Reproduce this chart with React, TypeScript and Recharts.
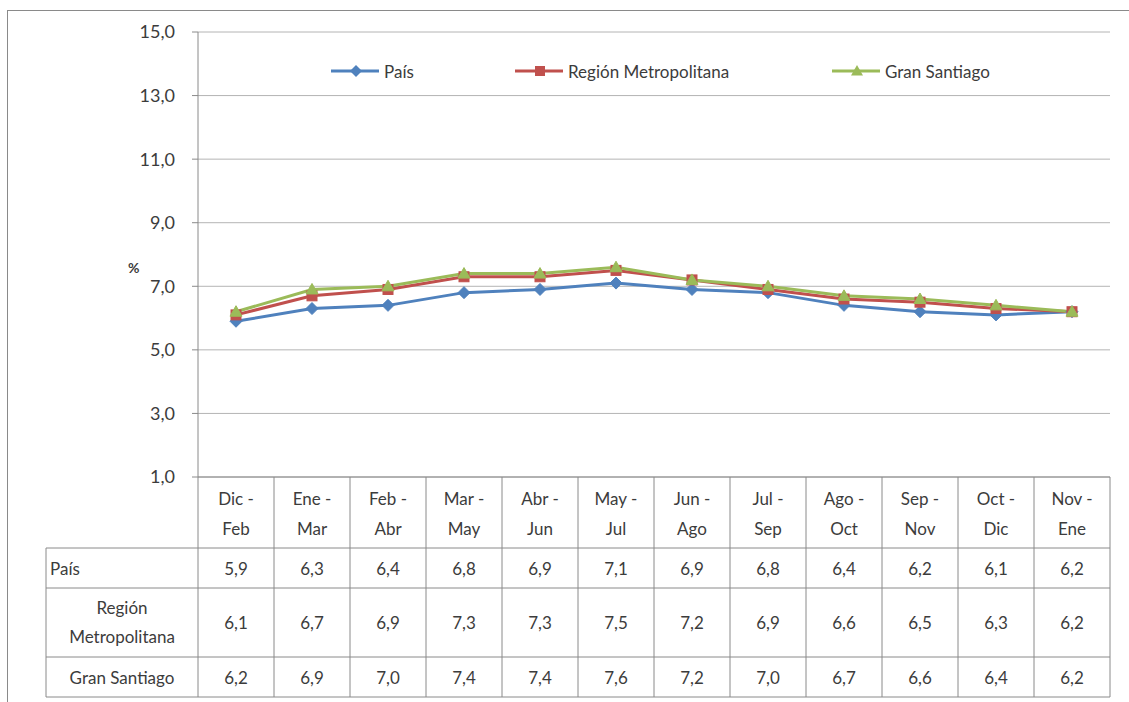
import React from 'react';
import { LineChart, Line, XAxis, YAxis, CartesianGrid } from 'recharts';

const categories = [
  'Dic - Feb', 'Ene - Mar', 'Feb - Abr', 'Mar - May', 'Abr - Jun', 'May - Jul',
  'Jun - Ago', 'Jul - Sep', 'Ago - Oct', 'Sep - Nov', 'Oct - Dic', 'Nov - Ene',
];
const pais = [5.9, 6.3, 6.4, 6.8, 6.9, 7.1, 6.9, 6.8, 6.4, 6.2, 6.1, 6.2];
const regionMetropolitana = [6.1, 6.7, 6.9, 7.3, 7.3, 7.5, 7.2, 6.9, 6.6, 6.5, 6.3, 6.2];
const granSantiago = [6.2, 6.9, 7.0, 7.4, 7.4, 7.6, 7.2, 7.0, 6.7, 6.6, 6.4, 6.2];
const yTicks = [1, 3, 5, 7, 9, 11, 13, 15];
const seriesNames = ['País', 'Región Metropolitana', 'Gran Santiago'];

const data = categories.map((c, i) => ({
  cat: c,
  pais: pais[i],
  rm: regionMetropolitana[i],
  gs: granSantiago[i],
}));

const FONT = 'Lato, "Open Sans", sans-serif';
const TEXT = '#3c3c3c';
const GRID = '#b4b4b4';
const AXIS = '#8a8a8a';
const BLUE = '#4F81BD';
const RED = '#C0504D';
const GREEN = '#9BBB59';

const W = 1129;
const H = 702;
const PLOT_LEFT = 198;
const PLOT_RIGHT = 1110;
const COL_W = (PLOT_RIGHT - PLOT_LEFT) / categories.length;
const LABEL_LEFT = 46;

const fmt = (v: number) => v.toFixed(1).replace('.', ',');

const diamondPts = (cx: number, cy: number, r: number) =>
  `${cx},${cy - r} ${cx + r},${cy} ${cx},${cy + r} ${cx - r},${cy}`;
const trianglePts = (cx: number, cy: number, r: number) =>
  `${cx},${cy - r} ${cx + r},${cy + r * 0.75} ${cx - r},${cy + r * 0.75}`;

const DiamondDot = (p: any) => (
  <polygon key={`pd-${p.index}`} points={diamondPts(p.cx, p.cy, 6)} fill={BLUE} stroke={BLUE} strokeWidth={1} />
);
const SquareDot = (p: any) => (
  <rect key={`rd-${p.index}`} x={p.cx - 5} y={p.cy - 5} width={10} height={10} fill={RED} stroke={RED} strokeWidth={1} />
);
const TriangleDot = (p: any) => (
  <polygon key={`gd-${p.index}`} points={trianglePts(p.cx, p.cy, 6)} fill={GREEN} stroke={GREEN} strokeWidth={1} />
);

// Row geometry offsets relative to axis line (y of x-axis)
const ROW_HEADER_BOTTOM = 71;
const ROW1_BOTTOM = 111;
const ROW2_BOTTOM = 180;
const ROW3_BOTTOM = 220;

const TableTick = (props: any) => {
  const { x, y, payload } = props;
  const i = payload.index;
  const top = y;
  const half = COL_W / 2;
  const parts = String(payload.value).split(' - ');
  const lineStyle = { stroke: AXIS, strokeWidth: 1 };
  const textProps = { fill: TEXT, fontFamily: FONT, fontSize: 17, textAnchor: 'middle' as const, dominantBaseline: 'central' as const };
  return (
    <g>
      {i === 0 && (
        <g>
          <line x1={x - half} y1={top} x2={x - half} y2={top + ROW3_BOTTOM} {...lineStyle} />
          <line x1={LABEL_LEFT} y1={top + ROW_HEADER_BOTTOM} x2={LABEL_LEFT} y2={top + ROW3_BOTTOM} {...lineStyle} />
          {[ROW_HEADER_BOTTOM, ROW1_BOTTOM, ROW2_BOTTOM, ROW3_BOTTOM].map((r) => (
            <line key={r} x1={LABEL_LEFT} y1={top + r} x2={x - half} y2={top + r} {...lineStyle} />
          ))}
          <text x={LABEL_LEFT + 4} y={top + 91} {...textProps} textAnchor="start">{seriesNames[0]}</text>
          <text x={(LABEL_LEFT + x - half) / 2} y={top + 130} {...textProps}>Región</text>
          <text x={(LABEL_LEFT + x - half) / 2} y={top + 159} {...textProps}>Metropolitana</text>
          <text x={(LABEL_LEFT + x - half) / 2} y={top + 200} {...textProps}>{seriesNames[2]}</text>
        </g>
      )}
      <line x1={x + half} y1={top} x2={x + half} y2={top + ROW3_BOTTOM} {...lineStyle} />
      {[ROW_HEADER_BOTTOM, ROW1_BOTTOM, ROW2_BOTTOM, ROW3_BOTTOM].map((r) => (
        <line key={r} x1={x - half} y1={top + r} x2={x + half} y2={top + r} {...lineStyle} />
      ))}
      <text x={x} y={top + 21} {...textProps}>{parts[0] + ' -'}</text>
      <text x={x} y={top + 51} {...textProps}>{parts[1]}</text>
      <text x={x} y={top + 91} {...textProps}>{fmt(pais[i])}</text>
      <text x={x} y={top + 145} {...textProps}>{fmt(regionMetropolitana[i])}</text>
      <text x={x} y={top + 200} {...textProps}>{fmt(granSantiago[i])}</text>
    </g>
  );
};

const LegendItem = ({ left, color, shape, label }: any) => (
  <div style={{ position: 'absolute', left, top: 60, height: 22, display: 'flex', alignItems: 'center' }}>
    <svg width={50} height={22} style={{ display: 'block' }}>
      <line x1={0} y1={11} x2={48} y2={11} stroke={color} strokeWidth={3} />
      {shape === 'diamond' && <polygon points={diamondPts(25, 11, 6)} fill={color} />}
      {shape === 'square' && <rect x={20} y={6} width={10} height={10} fill={color} />}
      {shape === 'triangle' && <polygon points={trianglePts(25, 11, 6)} fill={color} />}
    </svg>
    <span style={{ fontFamily: FONT, fontSize: 17, color: TEXT, marginLeft: 3, whiteSpace: 'nowrap' }}>{label}</span>
  </div>
);

export default function App() {
  return (
    <div style={{ position: 'absolute', left: 0, top: 0, width: W, height: H, background: '#fff', overflow: 'hidden' }}>
      <div style={{ position: 'absolute', left: 7, top: 10, width: W, height: H, borderLeft: `1px solid ${AXIS}`, borderTop: `1px solid ${AXIS}` }} />
      <div style={{ position: 'absolute', left: 0, top: 0 }}>
        <LineChart width={W} height={H} data={data} margin={{ top: 32, right: W - PLOT_RIGHT, bottom: 5, left: 0 }}>
          <CartesianGrid vertical={false} stroke={GRID} strokeWidth={1} />
          <XAxis
            dataKey="cat"
            height={220}
            interval={0}
            padding={{ left: COL_W / 2, right: COL_W / 2 }}
            axisLine={{ stroke: AXIS }}
            tickLine={false}
            tickSize={0}
            tickMargin={0}
            tick={<TableTick />}
          />
          <YAxis
            width={PLOT_LEFT}
            domain={[1, 15]}
            ticks={yTicks}
            interval={0}
            tickFormatter={(v: number) => fmt(v)}
            axisLine={{ stroke: AXIS }}
            tickLine={{ stroke: AXIS }}
            tickSize={6}
            tickMargin={17}
            tick={{ fill: TEXT, fontSize: 18, fontFamily: FONT }}
          />
          <Line dataKey="pais" name={seriesNames[0]} stroke={BLUE} strokeWidth={3} dot={DiamondDot} activeDot={false} isAnimationActive={false} />
          <Line dataKey="rm" name={seriesNames[1]} stroke={RED} strokeWidth={3} dot={SquareDot} activeDot={false} isAnimationActive={false} />
          <Line dataKey="gs" name={seriesNames[2]} stroke={GREEN} strokeWidth={3} dot={TriangleDot} activeDot={false} isAnimationActive={false} />
        </LineChart>
      </div>
      <LegendItem left={331} color={BLUE} shape="diamond" label={seriesNames[0]} />
      <LegendItem left={515} color={RED} shape="square" label={seriesNames[1]} />
      <LegendItem left={832} color={GREEN} shape="triangle" label={seriesNames[2]} />
      <div style={{ position: 'absolute', left: 128, top: 259, fontFamily: FONT, fontSize: 14, fontWeight: 'bold', color: TEXT }}>%</div>
    </div>
  );
}
